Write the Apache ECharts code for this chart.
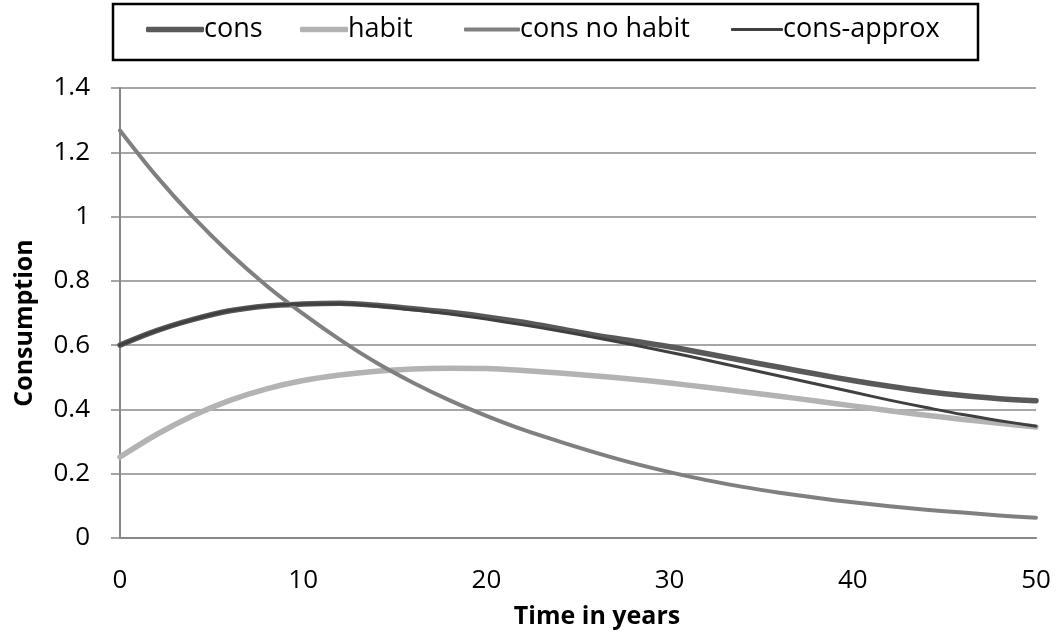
<!DOCTYPE html>
<html>
<head>
<meta charset="utf-8">
<script src="https://cdn.jsdelivr.net/npm/echarts@6/dist/echarts.min.js"></script>
<style>
html,body{margin:0;padding:0;background:#fff;}
#chart{width:1058px;height:638px;}
</style>
</head>
<body>
<div id="chart"></div>
<script>
const years = [0,2,4,6,8,10,12,14,16,18,20,22,24,26,28,30,32,34,36,38,40,42,44,46,48,50];
const cons = [0.600,0.645,0.680,0.707,0.722,0.728,0.730,0.724,0.713,0.702,0.688,0.671,0.651,0.630,0.613,0.595,0.574,0.552,0.531,0.510,0.490,0.472,0.456,0.443,0.433,0.427];
const habit = [0.252,0.322,0.381,0.428,0.464,0.490,0.507,0.519,0.526,0.528,0.527,0.521,0.513,0.504,0.494,0.482,0.469,0.455,0.441,0.426,0.411,0.396,0.382,0.369,0.357,0.345];
const consNoHabit = [1.268,1.125,0.998,0.885,0.785,0.697,0.617,0.545,0.483,0.428,0.380,0.337,0.300,0.265,0.233,0.205,0.180,0.159,0.141,0.125,0.111,0.099,0.088,0.079,0.070,0.063];
const consApprox = [0.600,0.645,0.680,0.707,0.722,0.728,0.729,0.722,0.710,0.697,0.681,0.663,0.644,0.623,0.601,0.578,0.554,0.529,0.504,0.479,0.454,0.429,0.406,0.384,0.365,0.348];
const seriesNames = ['cons','habit','cons no habit','cons-approx'];

const pair = arr => years.map((t,i)=>[t,arr[i]]);
const FONT = '"Open Sans", "Noto Sans", sans-serif';
const gridColor = '#888888';
const colors = ['#595959','#b3b3b3','#808080','#404040'];
const widths = [5.5,5.5,4,3];
const legendLeft = [146,300,464,731];
const legendIconW = [58,48,56,52];

const legends = seriesNames.map((n,i)=>({
  data:[n], left:legendLeft[i], top:16, padding:0,
  icon:'roundRect', itemWidth:legendIconW[i], itemHeight:widths[i],
  textStyle:{fontSize:27, color:'#000', fontFamily:FONT, padding:[0,0,0,-5]},
  selectedMode:false
}));

const chart = echarts.init(document.getElementById('chart'), null, {renderer:'canvas'});
chart.setOption({
  animation:false,
  backgroundColor:'#fff',
  textStyle:{fontFamily:FONT},
  graphic:[{type:'rect', shape:{x:113,y:4,width:865,height:56},
    style:{fill:'none', stroke:'#000', lineWidth:2.5}, z:100}],
  legend:legends,
  grid:{left:120, right:22, top:88, bottom:100, containLabel:false},
  xAxis:{
    type:'value', min:0, max:50, interval:10,
    name:'Time in years', nameLocation:'middle', nameGap:66,
    nameTextStyle:{fontSize:25, fontWeight:'bold', color:'#000', fontFamily:FONT, padding:[0,0,0,38]},
    axisLine:{show:true, lineStyle:{color:gridColor, width:2}},
    axisTick:{show:false},
    axisLabel:{fontSize:26, color:'#000', margin:30, fontFamily:FONT},
    splitLine:{show:false}
  },
  yAxis:{
    type:'value', min:0, max:1.4, interval:0.2,
    name:'Consumption', nameLocation:'middle', nameGap:83, nameRotate:90,
    nameTextStyle:{fontSize:25, fontWeight:'bold', color:'#000', fontFamily:FONT, padding:[0,20,0,0]},
    axisLine:{show:true, lineStyle:{color:gridColor, width:2}},
    axisTick:{show:true, length:9, inside:false, lineStyle:{color:gridColor, width:1.5}},
    axisLabel:{fontSize:26, color:'#000', margin:30, fontFamily:FONT,
      formatter:v=>String(Math.round(v*10)/10)},
    splitLine:{show:true, lineStyle:{color:gridColor, width:1.5}}
  },
  series:seriesNames.map((n,i)=>({
    name:n, type:'line', smooth:0.35, showSymbol:false, symbol:'none',
    data:pair([cons,habit,consNoHabit,consApprox][i]),
    itemStyle:{color:colors[i]},
    lineStyle:{color:colors[i], width:widths[i], cap:'round', join:'round'},
    z:2+i
  }))
});
</script>
</body>
</html>
